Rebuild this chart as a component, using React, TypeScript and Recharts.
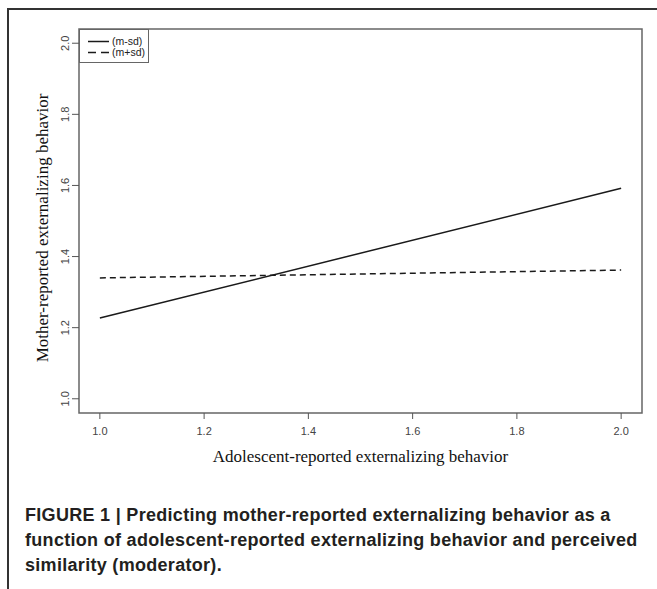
import { LineChart, Line, XAxis, YAxis, ReferenceArea, Label } from "recharts";

// simple slopes at low / high perceived similarity
const xValues = [1.0, 2.0];
const lowSimilarity = [1.227, 1.592]; // (m-sd)
const highSimilarity = [1.34, 1.362]; // (m+sd)
const seriesNames = ["(m-sd)", "(m+sd)"];
const xTicks = [1.0, 1.2, 1.4, 1.6, 1.8, 2.0];
const yTicks = [1.0, 1.2, 1.4, 1.6, 1.8, 2.0];
const xTitle = "Adolescent-reported externalizing behavior";
const yTitle = "Mother-reported externalizing behavior";
const caption =
  "FIGURE 1 | Predicting mother-reported externalizing behavior as a function of adolescent-reported externalizing behavior and perceived similarity (moderator).";

const data = xValues.map((x, i) => ({
  x,
  low: lowSimilarity[i],
  high: highSimilarity[i],
}));

const SERIF = "'Liberation Serif', 'Times New Roman', serif";
const SANS = "'Liberation Sans', Arial, Helvetica, sans-serif";
const DASH = "6 4";

const XTick = ({ x, y, payload }: any) => (
  <text x={x} y={y + 14} textAnchor="middle" fontSize={11} fontFamily={SANS} fill="#444">
    {Number(payload.value).toFixed(1)}
  </text>
);

const YTick = ({ x, y, payload }: any) => (
  <text
    x={x - 1}
    y={y}
    transform={`rotate(-90 ${x - 1} ${y})`}
    textAnchor="middle"
    fontSize={11}
    fontFamily={SANS}
    fill="#444"
  >
    {Number(payload.value).toFixed(1)}
  </text>
);

export default function App() {
  return (
    <div
      style={{
        position: "absolute",
        left: 0,
        top: 0,
        width: 657,
        height: 589,
        background: "#fff",
        overflow: "hidden",
      }}
    >
      {/* page frame */}
      <div style={{ position: "absolute", left: 7, top: 8, width: 650, height: 2, background: "#333" }} />
      <div style={{ position: "absolute", left: 7, top: 8, width: 2, height: 581, background: "#333" }} />

      <div style={{ position: "absolute", left: 0, top: 0 }}>
        <LineChart width={657} height={500} data={data} margin={{ top: 29, right: 15, bottom: 0, left: 0 }}>
          <XAxis
            dataKey="x"
            type="number"
            domain={[0.96, 2.04]}
            ticks={xTicks}
            tickSize={6}
            tickLine={{ stroke: "#555" }}
            axisLine={false}
            height={87}
            tick={<XTick />}
          >
            <Label
              content={({ viewBox }: any) => (
                <text
                  x={viewBox.x + viewBox.width / 2}
                  y={viewBox.y + 49}
                  textAnchor="middle"
                  fontSize={17}
                  fontFamily={SERIF}
                  fill="#111"
                >
                  {xTitle}
                </text>
              )}
            />
          </XAxis>
          <YAxis
            type="number"
            domain={[0.96, 2.04]}
            ticks={yTicks}
            tickSize={7}
            tickLine={{ stroke: "#555" }}
            axisLine={false}
            width={79}
            tick={<YTick />}
          >
            <Label
              content={({ viewBox }: any) => {
                const cx = 48;
                const cy = viewBox.y + viewBox.height / 2 + 7;
                return (
                  <text
                    x={cx}
                    y={cy}
                    transform={`rotate(-90 ${cx} ${cy})`}
                    textAnchor="middle"
                    fontSize={17}
                    fontFamily={SERIF}
                    fill="#111"
                  >
                    {yTitle}
                  </text>
                );
              }}
            />
          </YAxis>
          <ReferenceArea x1={0.96} x2={2.04} y1={0.96} y2={2.04} fill="none" stroke="#666" strokeWidth={1.5} />
          <Line dataKey="low" name={seriesNames[0]} stroke="#1a1a1a" strokeWidth={1.5} dot={false} isAnimationActive={false} />
          <Line
            dataKey="high"
            name={seriesNames[1]}
            stroke="#1a1a1a"
            strokeWidth={1.5}
            strokeDasharray={DASH}
            dot={false}
            isAnimationActive={false}
          />
        </LineChart>
      </div>

      {/* legend */}
      <div
        style={{
          position: "absolute",
          left: 79,
          top: 29,
          width: 70,
          height: 34,
          border: "1.5px solid #666",
          boxSizing: "border-box",
          background: "#fff",
        }}
      >
        <svg width={70} height={34} style={{ position: "absolute", left: -1.5, top: -1.5 }}>
          {seriesNames.map((name, i) => (
            <g key={name}>
              <line
                x1={9}
                x2={30}
                y1={12.5 + i * 11}
                y2={12.5 + i * 11}
                stroke="#1a1a1a"
                strokeWidth={1.5}
                strokeDasharray={i === 1 ? "8 5" : undefined}
              />
              <text x={33} y={16 + i * 11} fontSize={10.5} fontFamily={SANS} fill="#222">
                {name}
              </text>
            </g>
          ))}
        </svg>
      </div>

      {/* caption */}
      <div
        style={{
          position: "absolute",
          left: 25,
          top: 503,
          width: 630,
          fontFamily: SANS,
          fontWeight: 700,
          fontSize: 18,
          letterSpacing: 0.3,
          lineHeight: "25px",
          color: "#231f20",
        }}
      >
        {caption}
      </div>
    </div>
  );
}
